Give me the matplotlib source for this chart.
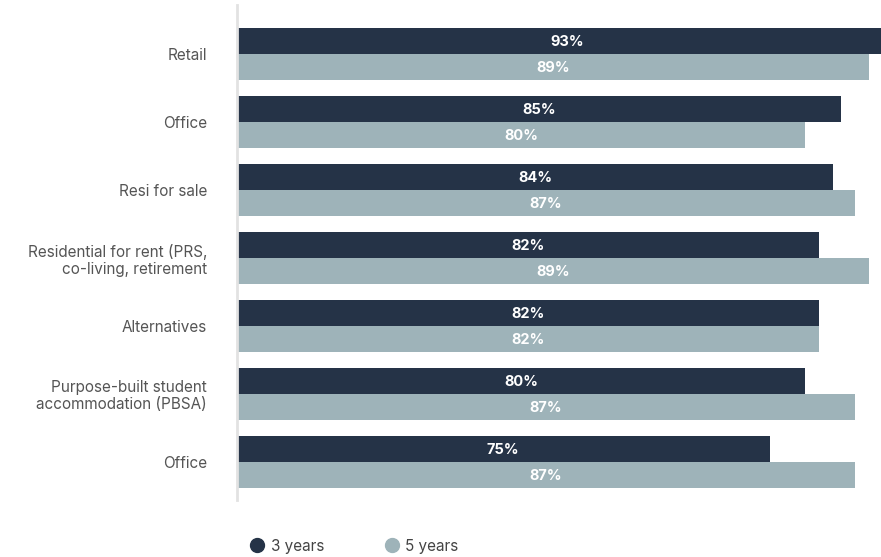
import numpy as np
import matplotlib.pyplot as plt
from matplotlib.lines import Line2D

# survey results per sector
categories = ['Retail', 'Office', 'Resi for sale',
              'Residential for rent (PRS,\nco-living, retirement',
              'Alternatives',
              'Purpose-built student\naccommodation (PBSA)', 'Office']
three_years = [93, 85, 84, 82, 82, 80, 75]
five_years = [89, 80, 87, 89, 82, 87, 87]
series_names = ['3 years', '5 years']

dark = '#253347'
light = '#9eb3b9'

plt.rcParams['font.family'] = ['Inter', 'DejaVu Sans']

fig = plt.figure(figsize=(8.81, 5.57), dpi=100)
ax = fig.add_axes([237 / 881, (557 - 500) / 557, 644 / 881, 495 / 557])

y = np.arange(len(categories))
h = 0.382
b1 = ax.barh(y - h / 2, three_years, height=h, color=dark)
b2 = ax.barh(y + h / 2, five_years, height=h, color=light)

for bars, vals in ((b1, three_years), (b2, five_years)):
    for bar, v in zip(bars, vals):
        ax.text(v / 2, bar.get_y() + bar.get_height() / 2 + 0.02, f'{v}%',
                ha='center', va='center', color='white',
                fontsize=10.5, fontweight='bold')

ax.set_xlim(0, 90.7)
ax.set_ylim(6.56, -0.72)
ax.set_yticks(y)
ax.set_yticklabels(categories, fontsize=11, color='#555555',
                   linespacing=1.15)
ax.tick_params(axis='y', length=0, pad=21.5)
ax.set_xticks([])
for s in ['top', 'right', 'bottom']:
    ax.spines[s].set_visible(False)
ax.spines['left'].set_color('#e2e2e2')
ax.spines['left'].set_linewidth(2)

handles = [Line2D([], [], marker='o', linestyle='', markersize=10,
                  color=c) for c in (dark, light)]
fig.legend(handles, series_names, loc='center left',
           bbox_to_anchor=(236 / 881, 1 - 546 / 557), ncol=2,
           frameon=False, fontsize=11, handlelength=1.0,
           handletextpad=0.4, columnspacing=3.9, labelcolor='#444444')

fig.savefig('out.png', dpi=100)
